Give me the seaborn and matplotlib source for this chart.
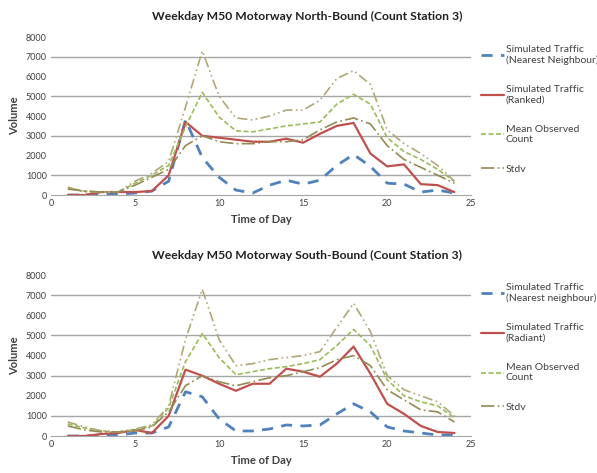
import numpy as np
import matplotlib
matplotlib.use("Agg")
import matplotlib.pyplot as plt
import seaborn as sns

hours = list(range(1, 25))

# North-bound
nb_nearest = [0, 0, 50, 50, 100, 200, 700, 3800, 1900, 900, 250, 100, 500, 750, 550, 750,
              1500, 2050, 1450, 600, 550, 150, 250, 100]
nb_ranked = [0, 0, 150, 150, 150, 200, 1000, 3700, 3000, 2900, 2800, 2700, 2700, 2850, 2650, 3100,
             3500, 3650, 2100, 1450, 1550, 550, 500, 150]
nb_mean = [350, 200, 150, 150, 600, 1000, 1500, 3450, 5200, 3950, 3250, 3200, 3350, 3500, 3600, 3700,
           4600, 5100, 4600, 2900, 2200, 1800, 1300, 700]
nb_std_hi = [400, 150, 150, 150, 700, 1100, 1700, 4450, 7300, 5000, 3900, 3800, 4000, 4300, 4300, 4800,
             5900, 6300, 5600, 3300, 2600, 2100, 1500, 700]
nb_std_lo = [300, 200, 150, 150, 500, 900, 1300, 2500, 3000, 2700, 2600, 2600, 2700, 2700, 2800, 3300,
             3700, 3900, 3600, 2500, 1800, 1400, 1000, 600]

# South-bound
sb_nearest = [0, 0, 50, 50, 150, 150, 450, 2200, 1950, 850, 250, 250, 350, 550, 500, 550,
              1100, 1600, 1200, 450, 250, 150, 50, 50]
sb_radiant = [0, 0, 100, 150, 300, 150, 1000, 3300, 3000, 2600, 2250, 2600, 2600, 3350, 3200, 2950,
              3600, 4450, 3100, 1600, 1100, 500, 200, 150]
sb_mean = [600, 400, 250, 200, 300, 500, 1400, 3700, 5100, 3900, 3050, 3200, 3350, 3450, 3600, 3800,
           4500, 5300, 4500, 2800, 2000, 1700, 1500, 900]
sb_std_hi = [700, 450, 250, 200, 350, 550, 1500, 4800, 7300, 4800, 3500, 3600, 3800, 3900, 4000, 4200,
             5400, 6600, 5200, 3000, 2300, 2000, 1700, 1000]
sb_std_lo = [500, 300, 200, 200, 250, 450, 1200, 2500, 3000, 2700, 2500, 2700, 2900, 3000, 3200, 3400,
             3800, 4000, 3500, 2300, 1800, 1300, 1200, 700]

titles = ["Weekday M50 Motorway North-Bound (Count Station 3)",
          "Weekday M50 Motorway South-Bound (Count Station 3)"]
labels_nb = ["Simulated Traffic\n(Nearest Neighbour)", "Simulated Traffic\n(Ranked)",
             "Mean Observed\nCount", "Stdv"]
labels_sb = ["Simulated Traffic\n(Nearest neighbour)", "Simulated Traffic\n(Radiant)",
             "Mean Observed\nCount", "Stdv"]

sns.set_style("white")
plt.rcParams["font.family"] = ["Lato", "DejaVu Sans"]

fig = plt.figure(figsize=(5.97, 4.73), dpi=100)
positions = [[0.0854, 0.5877, 0.704, 0.334], [0.0854, 0.0782, 0.704, 0.340]]
panels = [(nb_nearest, nb_ranked, nb_mean, nb_std_hi, nb_std_lo, labels_nb),
          (sb_nearest, sb_radiant, sb_mean, sb_std_hi, sb_std_lo, labels_sb)]

for pos, title, (near, sim, mean, hi, lo, labels) in zip(positions, titles, panels):
    ax = fig.add_axes(pos)
    for g in [1000, 3000, 5000, 7000]:
        ax.axhline(g, color="#a6a6a6", lw=1, zorder=0)
    sns.lineplot(x=hours, y=near, ax=ax, color="#4f81bd", lw=2.0)
    ax.lines[-1].set_dashes([4, 3])
    sns.lineplot(x=hours, y=sim, ax=ax, color="#c0504d", lw=1.6)
    sns.lineplot(x=hours, y=mean, ax=ax, color="#9bbb59", lw=1.2)
    ax.lines[-1].set_dashes([3, 1.5])
    sns.lineplot(x=hours, y=hi, ax=ax, color="#b0a878", lw=1.2)
    ax.lines[-1].set_dashes([6, 2, 1, 2, 1, 2])
    sns.lineplot(x=hours, y=lo, ax=ax, color="#948a54", lw=1.2)
    ax.lines[-1].set_dashes([8, 2, 1, 2])

    handles = [ax.lines[-5], ax.lines[-4], ax.lines[-3], ax.lines[-1]]
    ax.legend(handles, labels, loc="upper left", bbox_to_anchor=(1.0, 1.01),
              frameon=False, fontsize=7.5, labelspacing=1.95, handlelength=2.2,
              handletextpad=0.2, labelcolor="#404040")

    ax.set_xlim(0, 25)
    ax.set_ylim(0, 8000)
    ax.set_xticks(range(0, 26, 5))
    ax.set_yticks(range(0, 8001, 1000))
    ax.tick_params(length=0, labelsize=6.5, labelcolor="#404040", pad=3)
    for s in ["top", "right", "left"]:
        ax.spines[s].set_visible(False)
    ax.spines["bottom"].set_color("#a6a6a6")
    ax.set_xlabel("Time of Day", fontsize=8, fontweight="bold", color="#404040")
    ax.set_ylabel("Volume", fontsize=8, fontweight="bold", color="#404040")
    ax.set_title(title, fontsize=8.7, fontweight="bold", color="#202020", x=0.61, pad=12)

fig.savefig("out.png", dpi=100)
